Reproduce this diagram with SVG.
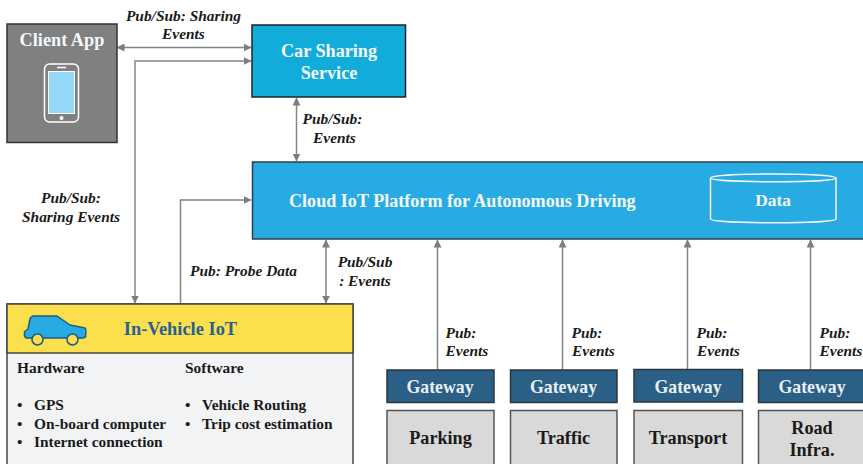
<svg xmlns="http://www.w3.org/2000/svg" width="863" height="464" viewBox="0 0 863 464">
<style>
text{font-family:"Liberation Serif","Times New Roman",serif;font-weight:bold}
.lb{font-style:italic;font-size:15.400px;fill:#1a1a1a;text-anchor:middle}
.w{fill:#f4f8fb;text-anchor:middle}
.b{fill:#1a1a1a}
.gw{fill:#2c5f85;stroke:#2b3640;stroke-width:1.5}
.gt{fill:#e9f0f5;font-size:17.800px;text-anchor:middle}
.src{fill:#d9d9d9;stroke:#555;stroke-width:1.5}
.st{fill:#1a1a1a;font-size:18.200px;text-anchor:middle}
.c{fill:none;stroke:#858585;stroke-width:1.5}
</style>
<defs>
<marker id="a" viewBox="0 0 8 8" refX="7.5" refY="4" markerWidth="8" markerHeight="8" markerUnits="userSpaceOnUse" orient="auto-start-reverse"><path d="M0 0L8 4L0 8Z" fill="#7d7d7d"/></marker>
</defs>
<g id="connectors">
<path class="c" d="M117 47.500H251" marker-start="url(#a)" marker-end="url(#a)"/>
<path class="c" d="M135 303V61H251" marker-start="url(#a)" marker-end="url(#a)"/>
<path class="c" d="M296.500 98V161" marker-start="url(#a)" marker-end="url(#a)"/>
<path class="c" d="M180.500 303V200H251" marker-end="url(#a)"/>
<path class="c" d="M326 240V303" marker-start="url(#a)" marker-end="url(#a)"/>
<path class="c" d="M437.500 370V240" marker-end="url(#a)"/>
<path class="c" d="M562.500 370V240" marker-end="url(#a)"/>
<path class="c" d="M687.500 370V240" marker-end="url(#a)"/>
<path class="c" d="M810.500 370V240" marker-end="url(#a)"/>
</g>
<g id="client-app">
<rect x="7" y="24" width="110" height="118.500" fill="#808080" stroke="#333" stroke-width="1.500"/>
<text class="w" x="62" y="46" font-size="18.300">Client App</text>
<rect x="44.500" y="64" width="34" height="58" rx="5" fill="#808080" stroke="#fff" stroke-width="1.500"/>
<rect x="48.500" y="71.500" width="26" height="42" fill="#93d8f7" stroke="#fff"/>
<path d="M57 67.500H66" stroke="#fff" stroke-width="1.500"/>
<circle cx="61.500" cy="118" r="2" fill="#fff"/>
</g>
<g id="car-sharing-service">
<rect x="252" y="25" width="153.500" height="72" fill="#12acdb" stroke="#222" stroke-width="1.500"/>
<text class="w" x="329" y="57" font-size="18.200">Car Sharing</text>
<text class="w" x="329" y="78.500" font-size="18.200">Service</text>
</g>
<g id="cloud-iot-platform">
<rect x="252.500" y="162" width="620" height="77" fill="#28abe3" stroke="#2b3f4c" stroke-width="1.500"/>
<text x="289" y="206.500" font-size="18.100" fill="#f4f8fb">Cloud IoT Platform for Autonomous Driving</text>
<path d="M710.500 178C710.500 172.500 836 172.500 836 178V219C836 224 710.500 224 710.500 219Z" fill="none" stroke="#f4f8fb" stroke-width="1.500"/>
<path d="M710.500 178C710.500 183 836 183 836 178" fill="none" stroke="#f4f8fb" stroke-width="1.500"/>
<text class="w" x="773" y="205.500" font-size="17.400">Data</text>
</g>
<g id="in-vehicle-iot">
<rect x="7" y="304" width="346" height="170" fill="#f2f3f5" stroke="#444" stroke-width="1.500"/>
<rect x="7" y="304" width="346" height="49" fill="#fbdf4d" stroke="#444" stroke-width="1.500"/>
<path d="M24.500 336L24.500 331.500L28 329L30 319Q31 316 34 316H57L70 325L85 328Q86.500 329 85.500 337L83 338H26Z" fill="#28abe3" stroke="#1f5a85" stroke-width="1.500" stroke-linejoin="round"/>
<circle cx="37.500" cy="339.500" r="5.500" fill="#fbdf4d" stroke="#1f5a85" stroke-width="1.500"/>
<circle cx="72.500" cy="339.500" r="5.500" fill="#fbdf4d" stroke="#1f5a85" stroke-width="1.500"/>
<text x="180.500" y="335" font-size="18.400" fill="#2a5f8e" text-anchor="middle">In-Vehicle IoT</text>
<text class="b" x="17" y="373" font-size="15.400">Hardware</text>
<text class="b" x="185" y="373" font-size="15.400">Software</text>
<text class="b" font-size="15.400"><tspan x="17" y="410">•</tspan><tspan x="34" y="410">GPS</tspan><tspan x="17" y="429">•</tspan><tspan x="34" y="429">On-board computer</tspan><tspan x="17" y="447">•</tspan><tspan x="34" y="447">Internet connection</tspan><tspan x="185" y="410">•</tspan><tspan x="202" y="410">Vehicle Routing</tspan><tspan x="185" y="429">•</tspan><tspan x="202" y="429">Trip cost estimation</tspan></text>
</g>
<g id="gateway-parking"><rect class="gw" x="387" y="370" width="107" height="32.500"/><text class="gt" x="440" y="393">Gateway</text></g>
<g id="gateway-traffic"><rect class="gw" x="510.500" y="370" width="106.500" height="32.500"/><text class="gt" x="563.500" y="392.500">Gateway</text></g>
<g id="gateway-transport"><rect class="gw" x="634" y="369.500" width="108.500" height="32.500"/><text class="gt" x="688" y="392.500">Gateway</text></g>
<g id="gateway-road"><rect class="gw" x="758.500" y="370" width="115" height="32.500"/><text class="gt" x="812" y="392.500">Gateway</text></g>
<g id="parking"><rect class="src" x="387" y="410.500" width="107" height="65"/><text class="st" x="440.500" y="444">Parking</text></g>
<g id="traffic"><rect class="src" x="510.500" y="410.500" width="106.500" height="65"/><text class="st" x="563.500" y="444">Traffic</text></g>
<g id="transport"><rect class="src" x="634" y="410.500" width="108.500" height="65"/><text class="st" x="688" y="444">Transport</text></g>
<g id="road-infra"><rect class="src" x="758.500" y="410.500" width="115" height="65"/><text class="st" x="812" y="433.500">Road</text><text class="st" x="812" y="456">Infra.</text></g>
<g id="labels">
<text class="lb" x="183.500" y="20.500">Pub/Sub: Sharing</text>
<text class="lb" x="183.500" y="38.500">Events</text>
<text class="lb" x="332.500" y="124">Pub/Sub:</text>
<text class="lb" x="334.500" y="142.500">Events</text>
<text class="lb" x="71" y="203">Pub/Sub:</text>
<text class="lb" x="71" y="222">Sharing Events</text>
<text class="lb" x="243.500" y="276">Pub: Probe Data</text>
<text class="lb" x="365" y="267">Pub/Sub</text>
<text class="lb" x="365" y="286">: Events</text>
<text class="lb" x="461" y="337.500">Pub:</text><text class="lb" x="467" y="356">Events</text>
<text class="lb" x="587" y="337.500">Pub:</text><text class="lb" x="593.500" y="356">Events</text>
<text class="lb" x="712" y="337.500">Pub:</text><text class="lb" x="718.500" y="356">Events</text>
<text class="lb" x="835" y="337.500">Pub:</text><text class="lb" x="841" y="356">Events</text>
</g>
</svg>
